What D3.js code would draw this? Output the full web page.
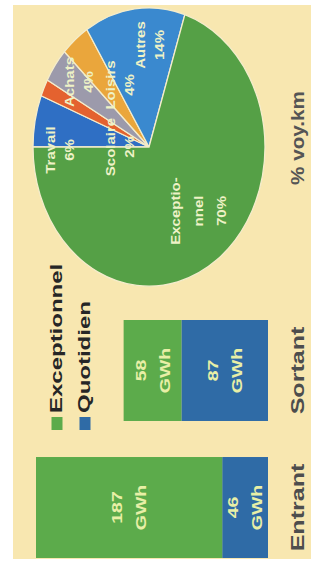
<!DOCTYPE html>
<html>
<head>
<meta charset="utf-8">
<script src="https://cdn.jsdelivr.net/npm/d3@7"></script>
<style>
  html, body { margin: 0; padding: 0; background: #ffffff; }
  svg { display: block; font-family: "Liberation Sans", Arial, sans-serif; }
</style>
</head>
<body>
<svg id="chart" width="322" height="564"></svg>
<script>
// ---- data ----
const categories = ["Entrant", "Sortant"];
const stackOrder = ["Quotidien", "Exceptionnel"];      // from the baseline outwards
const exceptionnel = [187, 58];                        // GWh
const quotidien = [46, 87];                            // GWh
const unit = "GWh";
const legendNames = ["Exceptionnel", "Quotidien"];

const pieNames = ["Travail", "Scolaire", "Achats", "Loisirs", "Autres", "Exceptionnel"];
const pieLines = [["Travail"], ["Scolaire"], ["Achats"], ["Loisirs"], ["Autres"], ["Exceptio-", "nnel"]];
const pieShares = [6, 2, 4, 4, 14, 70];                // % voy.km
const pieTitle = "% voy.km";

// ---- styles / layout ----
const barColors = { Exceptionnel: "#5cab4b", Quotidien: "#2f6ba6" };
const pieColors = ["#2f6fc4", "#e4622f", "#9c9aab", "#eaa63c", "#3a89cf", "#55a046"];
// label anchors relative to the pie centre (along, across), in the chart frame
const pieLabelAnchor = [[-3, -89], [0, -29], [65, -70], [62, -29], [102, 1], [-64, 50]];

const svg = d3.select("#chart");
// the whole chart is laid out in its own frame, then turned a quarter turn
const frame = svg.append("g").attr("transform", "translate(0,564) rotate(-90)");

frame.append("rect")
  .attr("x", 5).attr("y", 13).attr("width", 554).attr("height", 298)
  .attr("fill", "#f8e7b0");

// ---- stacked bars ----
const x = d3.scaleBand().domain(categories).range([6, 244]).paddingInner(0.263);
const y = d3.scaleLinear().domain([0, 233]).range([268, 36]);

const table = categories.map((c, i) => ({ category: c, Quotidien: quotidien[i], Exceptionnel: exceptionnel[i] }));
const series = d3.stack().keys(stackOrder)(table);

const layers = frame.append("g").selectAll("g").data(series).join("g")
  .attr("fill", s => barColors[s.key]);

layers.selectAll("rect").data(s => s).join("rect")
  .attr("x", d => x(d.data.category))
  .attr("width", x.bandwidth())
  .attr("y", d => y(d[1]))
  .attr("height", d => y(d[0]) - y(d[1]));

// text helper: a group centred on (cx, cy), stretched along the reading direction
function textBlock(parent, cx, cy, lines, opts) {
  const g = parent.append("g")
    .attr("transform", `translate(${cx},${cy}) scale(${opts.stretch},1)`);
  const n = lines.length;
  lines.forEach((t, k) => {
    g.append("text")
      .attr("x", 0)
      .attr("y", (k - (n - 1) / 2) * opts.lineGap)
      .attr("text-anchor", opts.anchor || "middle")
      .attr("dominant-baseline", "central")
      .attr("font-size", opts.size)
      .attr("font-weight", opts.weight || "bold")
      .attr("fill", opts.fill)
      .text(t);
  });
  return g;
}

// value labels inside each segment
series.forEach(s => {
  s.forEach(d => {
    const cx = x(d.data.category) + x.bandwidth() / 2;
    const cy = (y(d[0]) + y(d[1])) / 2;
    textBlock(frame, cx, cy, [String(d.data[s.key]), unit],
      { size: 15, stretch: 1.3, lineGap: 24, fill: "#e8efa6" });
  });
});

// category labels
categories.forEach(c => {
  textBlock(frame, x(c) + x.bandwidth() / 2, 298, [c],
    { size: 19, stretch: 1.32, lineGap: 0, fill: "#4d4d4d" });
});

// ---- legend ----
legendNames.forEach((name, i) => {
  const cy = 57 + i * 28;
  frame.append("rect")
    .attr("x", 134).attr("y", cy - 5.5).attr("width", 13).attr("height", 11)
    .attr("fill", barColors[name]);
  textBlock(frame, 151, cy, [name],
    { size: 16, stretch: 1.5, lineGap: 0, fill: "#262626", anchor: "start" });
});

// ---- pie ----
const pieCx = 417, pieCy = 149, R = 116, squash = 1.2;
const arcs = d3.pie().sort(null).value(d => d)(pieShares);
const arc = d3.arc().innerRadius(0).outerRadius(R);

const pieG = frame.append("g").attr("transform", `translate(${pieCx},${pieCy})`);
pieG.append("g").attr("transform", `scale(${squash},1)`)
  .selectAll("path").data(arcs).join("path")
  .attr("d", arc)
  .attr("fill", (d, i) => pieColors[i])
  .attr("stroke", "#f4eccb")
  .attr("stroke-width", 1.3)
  .attr("vector-effect", "non-scaling-stroke");

arcs.forEach((d, i) => {
  const [du, dv] = pieLabelAnchor[i];
  textBlock(pieG, du, dv, [...pieLines[i], pieShares[i] + "%"],
    { size: 12.5, stretch: 1.2, lineGap: i === 5 ? 23 : 19, fill: "#eef2c6" });
});

textBlock(frame, 426, 298, [pieTitle],
  { size: 18, stretch: 1.15, lineGap: 0, fill: "#555555" });
</script>
</body>
</html>
